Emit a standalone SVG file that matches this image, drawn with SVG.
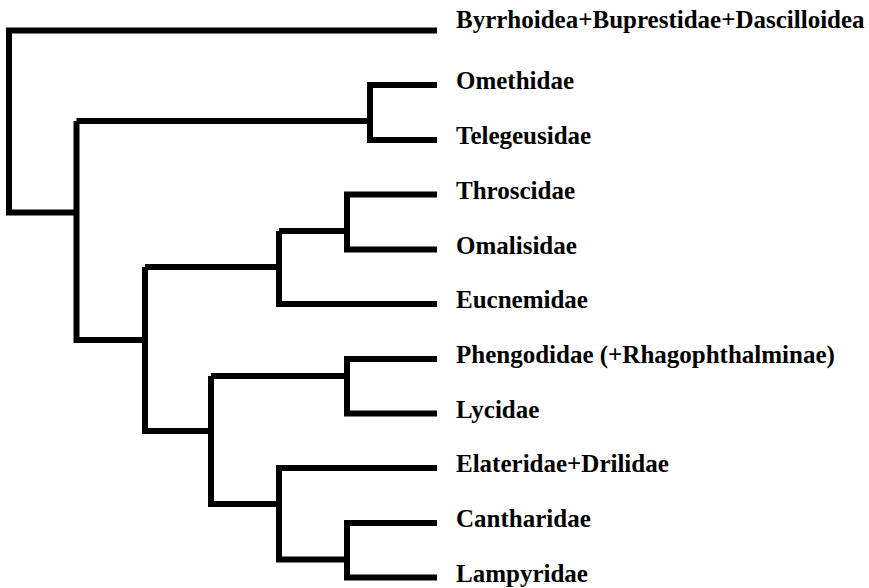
<svg xmlns="http://www.w3.org/2000/svg" width="869" height="588" viewBox="0 0 869 588">
<style>
.e{fill:none;stroke:#000;stroke-width:6;stroke-linejoin:miter;stroke-linecap:butt}
.t{font-family:"Liberation Serif","Times New Roman",serif;font-weight:bold;font-size:25px;fill:#000}
</style>
<rect width="869" height="588" fill="#fff"/>
<g id="connectors">
<path class="e" d="M437,30.5 H9 V212.5 H76.5"/>
<path class="e" d="M76.5,121 V340 H145"/>
<path class="e" d="M76.5,121 H370"/>
<path class="e" d="M437,85 H370 V140 H437"/>
<path class="e" d="M145,267 V431 H211"/>
<path class="e" d="M145,267 H279"/>
<path class="e" d="M279,231 V304 H437"/>
<path class="e" d="M279,231 H347"/>
<path class="e" d="M437,194.5 H347 V249.5 H437"/>
<path class="e" d="M211,376 V504 H279"/>
<path class="e" d="M211,376 H347"/>
<path class="e" d="M437,359 H347 V413.5 H437"/>
<path class="e" d="M437,468 H279 V559.5 H347"/>
<path class="e" d="M437,523 H347 V577.5 H437"/>
</g>
<g id="n-byrrhoidea"><text class="t" x="456" y="28">Byrrhoidea+Buprestidae+Dascilloidea</text></g>
<g id="n-omethidae"><text class="t" x="456" y="89">Omethidae</text></g>
<g id="n-telegeusidae"><text class="t" x="456" y="144">Telegeusidae</text></g>
<g id="n-throscidae"><text class="t" x="456" y="198.5">Throscidae</text></g>
<g id="n-omalisidae"><text class="t" x="456" y="253.5">Omalisidae</text></g>
<g id="n-eucnemidae"><text class="t" x="456" y="308">Eucnemidae</text></g>
<g id="n-phengodidae"><text class="t" x="456" y="363">Phengodidae (+Rhagophthalminae)</text></g>
<g id="n-lycidae"><text class="t" x="456" y="417.5">Lycidae</text></g>
<g id="n-elateridae"><text class="t" x="456" y="472">Elateridae+Drilidae</text></g>
<g id="n-cantharidae"><text class="t" x="456" y="527">Cantharidae</text></g>
<g id="n-lampyridae"><text class="t" x="456" y="581.5">Lampyridae</text></g>
</svg>
